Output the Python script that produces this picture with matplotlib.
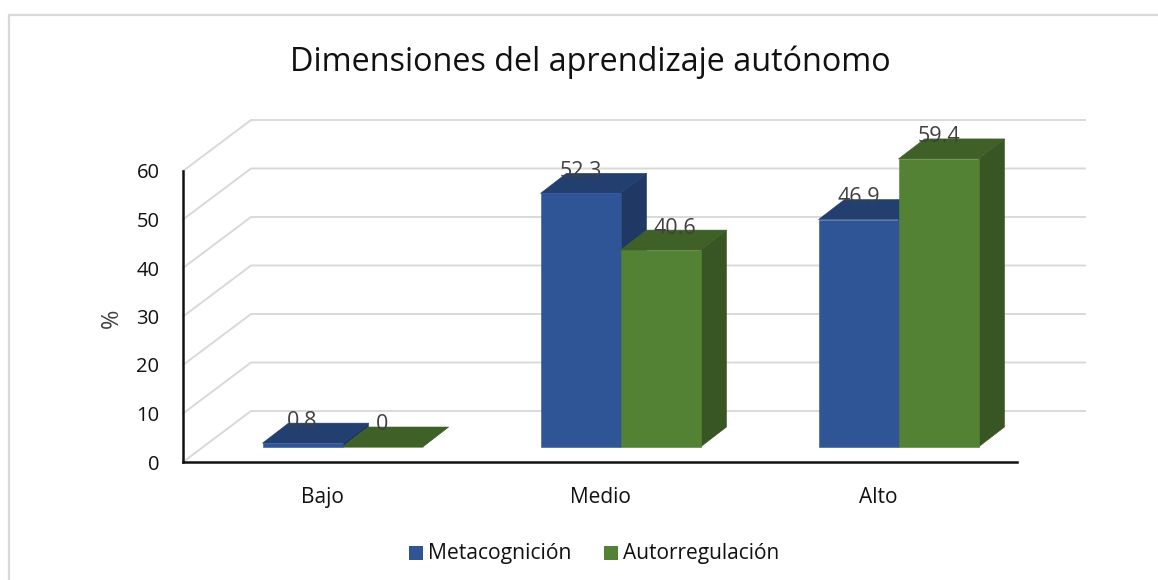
import matplotlib
matplotlib.use('Agg')
import matplotlib.pyplot as plt
from matplotlib.lines import Line2D
from matplotlib.patches import Polygon, Rectangle

categorias = ['Bajo', 'Medio', 'Alto']
metacognicion = [0.8, 52.3, 46.9]
autorregulacion = [0, 40.6, 59.4]
etiquetas_y = [0, 10, 20, 30, 40, 50, 60]

W, H = 1158, 580
plt.rcParams['font.family'] = ['Open Sans', 'DejaVu Sans']

fig = plt.figure(figsize=(W / 100, H / 100), dpi=100)
# ejes frontales en pixeles: x 183-1017, y 171-462
ax = fig.add_axes([183 / W, 1 - 462 / H, (1017 - 183) / W, (462 - 171) / H])
ax.set_xlim(-0.5, 2.5)
ax.set_ylim(0, 60)

px_x = 3 / (1017 - 183)
px_y = 60 / (462 - 171)


# desplazamiento de profundidad en pixeles -> datos
def prof(x, y, dx, dy):
    return (x + dx * px_x, y + dy * px_y)


# pared del fondo
for v in etiquetas_y:
    a = prof(-0.5, v, 0, 0)
    b = prof(-0.5, v, 68, 51)
    c = prof(2.5, v, 68, 51)
    ax.plot([a[0], b[0], c[0]], [a[1], b[1], c[1]], color='#d9d9d9', lw=1.4,
            clip_on=False, zorder=1, solid_joinstyle='miter')


def barra(xc, ancho, valor, frente, arriba, lado, orden):
    x0, x1 = xc - ancho / 2, xc + ancho / 2
    dx0, dy0 = 20.5, 15   # separacion desde el eje frontal
    dx1, dy1 = 46.5, 35
    f = [prof(x0, 0, dx0, dy0), prof(x1, 0, dx0, dy0), prof(x1, valor, dx0, dy0), prof(x0, valor, dx0, dy0)]
    t = [prof(x0, valor, dx0, dy0), prof(x1, valor, dx0, dy0), prof(x1, valor, dx1, dy1), prof(x0, valor, dx1, dy1)]
    s = [prof(x1, 0, dx0, dy0), prof(x1, 0, dx1, dy1), prof(x1, valor, dx1, dy1), prof(x1, valor, dx0, dy0)]
    ax.add_patch(Polygon(s, closed=True, fc=lado, ec=lado, lw=0.4, clip_on=False, zorder=orden))
    ax.add_patch(Polygon(t, closed=True, fc=arriba, ec=arriba, lw=0.4, clip_on=False, zorder=orden))
    ax.add_patch(Polygon(f, closed=True, fc=frente, ec=frente, lw=0.4, clip_on=False, zorder=orden))
    return prof(xc, valor, dx0, dy0 + 22)


ancho = 80 * px_x
azul = ('#2f5597', '#223f70', '#1f3864')
verde = ('#548235', '#3f6128', '#375623')
for i in range(len(categorias)):
    p1 = barra(i - ancho / 2, ancho, metacognicion[i], *azul, 3)
    p2 = barra(i + ancho / 2, ancho, autorregulacion[i], *verde, 4)
    ax.text(p1[0], p1[1], str(metacognicion[i]), fontsize=15.5, color='#404040',
            ha='center', va='center', zorder=6, clip_on=False)
    # la etiqueta 40.6 esta corrida a la derecha en el original
    extra = 14 * px_x if i == 1 else 0
    ax.text(p2[0] + extra, p2[1], str(autorregulacion[i]), fontsize=15.5, color='#404040',
            ha='center', va='center', zorder=6, clip_on=False)

ax.set_xticks(range(len(categorias)))
ax.set_xticklabels(categorias, fontsize=15, color='#111111')
ax.set_yticks(etiquetas_y)
ax.set_yticklabels(etiquetas_y, fontsize=14.5, color='#111111')
ax.tick_params(length=0, axis='x', pad=18)
ax.tick_params(length=0, axis='y', pad=17)
fig.text(112 / W, 1 - 318 / H, '%', fontsize=17, color='#404040', rotation=90, ha='center', va='center')

for s in ['top', 'right']:
    ax.spines[s].set_visible(False)
for s in ['left', 'bottom']:
    ax.spines[s].set_linewidth(1.8)
    ax.spines[s].set_color('#111111')
ax.patch.set_alpha(0)

fig.text(590 / W, 1 - 62 / H, 'Dimensiones del aprendizaje autónomo', fontsize=23.3, color='#111111',
         ha='center', va='center')

# leyenda
fig.patches.append(Rectangle((409 / W, 1 - 560 / H), 14 / W, 14 / H, transform=fig.transFigure, fc=azul[0], ec='none'))
fig.patches.append(Rectangle((604 / W, 1 - 560 / H), 14 / W, 14 / H, transform=fig.transFigure, fc=verde[0], ec='none'))
fig.text(428 / W, 1 - 554 / H, 'Metacognición', fontsize=15.2, color='#111111', ha='left', va='center')
fig.text(623 / W, 1 - 554 / H, 'Autorregulación', fontsize=15, color='#111111', ha='left', va='center')

# borde del grafico: solo arriba e izquierda
fig.add_artist(Line2D([9 / W, 9 / W, 1], [0, 1 - 15 / H, 1 - 15 / H], transform=fig.transFigure,
                      color='#d9d9d9', lw=1.6, solid_joinstyle='miter'))

fig.savefig('out.png', dpi=100)
